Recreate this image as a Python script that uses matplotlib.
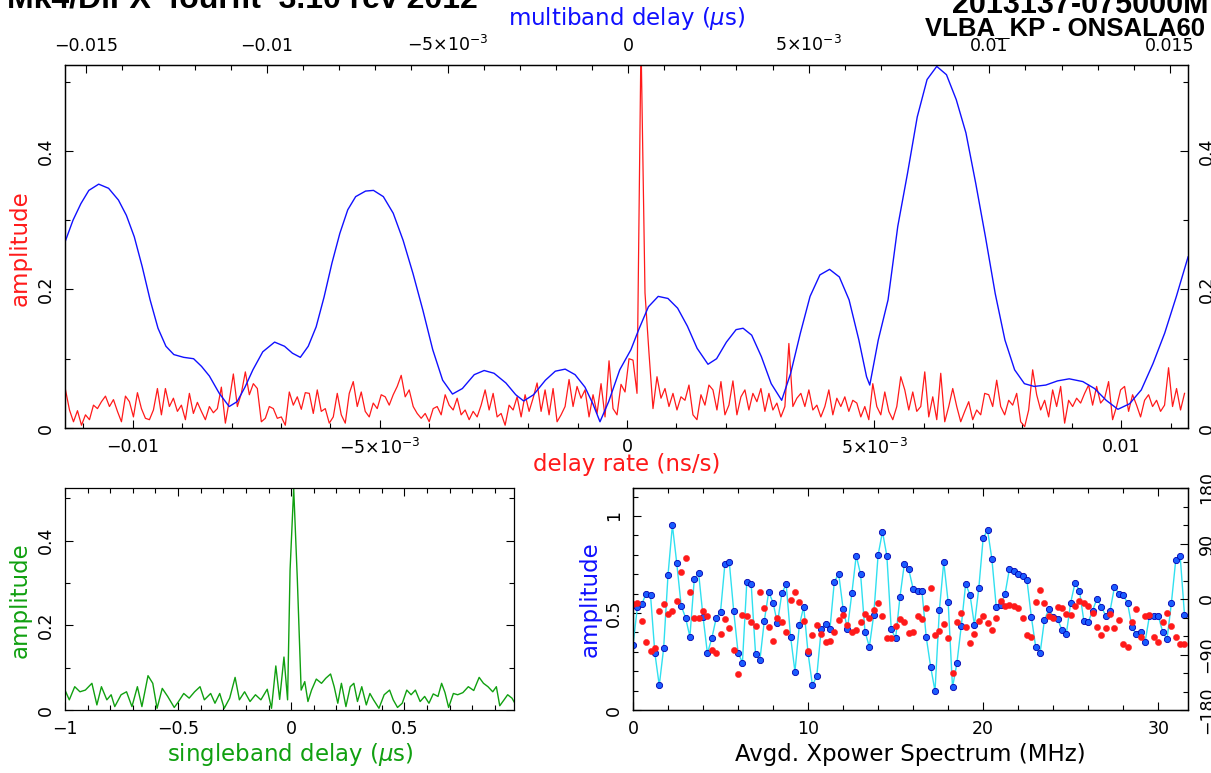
import numpy as np
import matplotlib
matplotlib.use("Agg")
import matplotlib.pyplot as plt
from matplotlib.ticker import FixedLocator, FixedFormatter, MultipleLocator

# ---- delay-rate spectrum (red, bottom axis of top panel), evenly sampled ----
rate_first, rate_last = -0.01136, 0.01128   # ns/s, first and last sample
rate_amp = [
    0.055, 0.026, 0.009, 0.025, 0.004, 0.019, 0.012, 0.033, 0.028, 0.038,
    0.046, 0.031, 0.041, 0.024, 0.009, 0.046, 0.038, 0.016, 0.051, 0.028,
    0.014, 0.012, 0.026, 0.057, 0.019, 0.057, 0.031, 0.043, 0.024, 0.033,
    0.012, 0.050, 0.021, 0.037, 0.024, 0.012, 0.031, 0.022, 0.028, 0.059,
    0.007, 0.040, 0.078, 0.031, 0.050, 0.081, 0.048, 0.064, 0.057, 0.009,
    0.014, 0.031, 0.028, 0.014, 0.016, 0.004, 0.052, 0.033, 0.045, 0.027,
    0.051, 0.050, 0.021, 0.055, 0.024, 0.028, 0.007, 0.016, 0.050, 0.019,
    0.007, 0.050,
    0.067, 0.031, 0.052, 0.024, 0.016, 0.036, 0.028, 0.048, 0.045, 0.033,
    0.048, 0.060, 0.076, 0.045, 0.055, 0.031, 0.021, 0.014, 0.021, 0.009,
    0.028, 0.031, 0.019, 0.048, 0.033, 0.026, 0.043, 0.019, 0.026, 0.012,
    0.024, 0.016, 0.033, 0.055, 0.026, 0.050, 0.016, 0.021, 0.004, 0.033,
    0.026, 0.045, 0.016, 0.048, 0.024, 0.043, 0.065, 0.024, 0.055, 0.019,
    0.057, 0.009, 0.019, 0.031, 0.070, 0.031, 0.060, 0.043, 0.055, 0.016,
    0.048, 0.021, 0.064, 0.016, 0.097, 0.028, 0.019, 0.063, 0.052, 0.100,
    0.098, 0.050, 0.560, 0.195, 0.108, 0.028, 0.074, 0.043, 0.057, 0.031,
    0.050, 0.026, 0.045, 0.040, 0.062, 0.019, 0.012, 0.048, 0.033, 0.062,
    0.055, 0.026, 0.067, 0.019, 0.033, 0.068, 0.019, 0.045, 0.055, 0.026,
    0.050, 0.038, 0.057, 0.024, 0.050, 0.026, 0.036, 0.016, 0.031, 0.122,
    0.031, 0.043, 0.050, 0.031, 0.055, 0.026, 0.033, 0.016, 0.031, 0.055,
    0.019, 0.043, 0.031, 0.045, 0.024, 0.040, 0.036, 0.016, 0.031, 0.012,
    0.064, 0.031, 0.019, 0.052, 0.024, 0.012, 0.031, 0.074, 0.055, 0.026,
    0.052, 0.024, 0.031, 0.081, 0.016, 0.045, 0.012, 0.079, 0.009, 0.031,
    0.057, 0.031, 0.009, 0.024, 0.038, 0.012, 0.026, 0.019, 0.050, 0.048,
    0.031, 0.069, 0.031, 0.019, 0.040, 0.033, 0.050, 0.009, 0.002, 0.026,
    0.084, 0.048, 0.026, 0.040, 0.016, 0.055, 0.031, 0.060, 0.007, 0.040,
    0.031, 0.043, 0.036, 0.050, 0.062, 0.033, 0.060, 0.036, 0.043, 0.067,
    0.012, 0.031, 0.055, 0.060, 0.024, 0.048, 0.033, 0.016, 0.040, 0.048,
    0.031, 0.040, 0.024, 0.033, 0.087, 0.031, 0.057, 0.026, 0.050,
]

# ---- multiband delay function (blue, top axis of top panel) ----
mbd_delay = [
    -0.015600, -0.015368, -0.015149, -0.014930, -0.014657, -0.014383, -0.014110,
    -0.013891, -0.013672, -0.013453, -0.013234, -0.013015, -0.012796, -0.012577,
    -0.012304, -0.012030, -0.011811, -0.011592, -0.011319, -0.011045, -0.010826,
    -0.010607, -0.010388, -0.010115, -0.009787, -0.009513, -0.009294, -0.009075,
    -0.008856, -0.008637, -0.008418, -0.008200, -0.007981, -0.007762, -0.007543,
    -0.007269, -0.007050, -0.006777, -0.006503, -0.006230, -0.005956, -0.005682,
    -0.005409, -0.005135, -0.004862, -0.004588, -0.004260, -0.003986, -0.003712,
    -0.003384, -0.003111, -0.002892, -0.002618, -0.002290, -0.002016, -0.001743,
    -0.001469, -0.001195, -0.000976, -0.000779, -0.000539, -0.000232,
    0.000077, 0.000293, 0.000562, 0.000833, 0.001102, 0.001370, 0.001641,
    0.001910, 0.002211, 0.002449, 0.002721, 0.002989, 0.003183, 0.003421,
    0.003689, 0.003961, 0.004251, 0.004500, 0.004769, 0.005037, 0.005309,
    0.005577, 0.005848, 0.006117, 0.006388, 0.006601, 0.006690, 0.006925,
    0.007196, 0.007465, 0.007736, 0.008004, 0.008276, 0.008544, 0.008813,
    0.009084, 0.009352, 0.009624, 0.009892, 0.010163, 0.010432, 0.010700,
    0.010971, 0.011240, 0.011564, 0.011888, 0.012211, 0.012588, 0.012912,
    0.013235, 0.013559, 0.013883, 0.014207, 0.014531, 0.014855, 0.015178,
    0.015502,
]
mbd_amp = [
    0.267, 0.300, 0.324, 0.343, 0.352, 0.346, 0.329,
    0.307, 0.276, 0.233, 0.185, 0.144, 0.118, 0.106,
    0.102, 0.100, 0.089, 0.075, 0.050, 0.031, 0.038,
    0.059, 0.084, 0.110, 0.124, 0.118, 0.108, 0.102,
    0.118, 0.146, 0.189, 0.238, 0.281, 0.315, 0.334,
    0.342, 0.343, 0.334, 0.310, 0.271, 0.223, 0.170,
    0.113, 0.069, 0.049, 0.057, 0.077, 0.083, 0.079,
    0.065, 0.048, 0.039, 0.048, 0.069, 0.082, 0.085,
    0.077, 0.059, 0.035, 0.009, 0.038, 0.084,
    0.113, 0.142, 0.175, 0.190, 0.187, 0.173, 0.147,
    0.115, 0.092, 0.100, 0.124, 0.142, 0.144, 0.134,
    0.103, 0.064, 0.040, 0.079, 0.137, 0.190, 0.221,
    0.229, 0.218, 0.185, 0.127, 0.074, 0.062, 0.127,
    0.185, 0.291, 0.368, 0.449, 0.503, 0.522, 0.510,
    0.474, 0.426, 0.353, 0.276, 0.194, 0.127, 0.084,
    0.064, 0.060, 0.062, 0.068, 0.071, 0.067, 0.057,
    0.040, 0.027, 0.035, 0.055, 0.093, 0.137, 0.190,
    0.247,
]

# ---- singleband delay function (green) ----
sbd_delay = [
    -1.000, -0.981, -0.957, -0.934, -0.910, -0.881, -0.859, -0.839, -0.815, -0.796,
    -0.780, -0.752, -0.728, -0.704, -0.680, -0.660, -0.633, -0.612, -0.593, -0.570,
    -0.546, -0.517, -0.498, -0.475, -0.451, -0.427, -0.403, -0.384, -0.356, -0.337,
    -0.316, -0.296, -0.272, -0.248, -0.229, -0.206, -0.182, -0.158, -0.134, -0.106,
    -0.087, -0.068, -0.051, -0.032, -0.016, -0.005, 0.011, 0.027, 0.044, 0.060,
    0.074, 0.090, 0.111, 0.134, 0.153, 0.174, 0.190, 0.206, 0.222, 0.242,
    0.261, 0.277, 0.293, 0.312, 0.332, 0.348, 0.364, 0.388, 0.411, 0.435,
    0.451, 0.470, 0.491, 0.511, 0.530, 0.549, 0.570, 0.590, 0.609, 0.628,
    0.649, 0.665, 0.680, 0.696, 0.717, 0.736, 0.759, 0.783, 0.807, 0.831,
    0.850, 0.870, 0.891, 0.907, 0.922, 0.941, 0.957, 0.976, 0.989,
]
sbd_amp = [
    0.047, 0.024, 0.055, 0.043, 0.047, 0.063, 0.012, 0.055, 0.024, 0.036,
    0.008, 0.036, 0.043, 0.008, 0.055, 0.008, 0.081, 0.063, 0.004, 0.051,
    0.032, 0.006, 0.020, 0.039, 0.028, 0.043, 0.055, 0.024, 0.039, 0.016,
    0.039, 0.004, 0.028, 0.077, 0.024, 0.043, 0.020, 0.036, 0.024, 0.049,
    0.004, 0.104, 0.025, 0.125, 0.024, 0.330, 0.523, 0.310, 0.047, 0.067,
    0.020, 0.047, 0.073, 0.063, 0.075, 0.085, 0.055, 0.016, 0.063, 0.008,
    0.055, 0.063, 0.020, 0.055, 0.012, 0.039, 0.024, 0.004, 0.036, 0.047,
    0.024, 0.006, 0.016, 0.047, 0.036, 0.047, 0.020, 0.032, 0.016, 0.038,
    0.032, 0.063, 0.041, 0.006, 0.039, 0.036, 0.041, 0.055, 0.046, 0.077,
    0.063, 0.055, 0.043, 0.055, 0.010, 0.024, 0.036, 0.028, 0.016,
]

# ---- averaged cross-power spectrum, 0.25 MHz channels ----
xp_chan_mhz = 0.25
xp_amp = [
    0.335, 0.529, 0.545, 0.600, 0.593, 0.292, 0.127, 0.318, 0.696, 0.952,
    0.756, 0.538, 0.476, 0.378, 0.674, 0.704, 0.481, 0.292, 0.369, 0.473,
    0.507, 0.753, 0.761, 0.512, 0.296, 0.244, 0.658, 0.649, 0.289, 0.258,
    0.460, 0.608, 0.553, 0.447, 0.601, 0.648, 0.378, 0.198, 0.436, 0.533,
    0.292, 0.127, 0.177, 0.416, 0.443, 0.419, 0.662, 0.701, 0.521, 0.419,
    0.601, 0.796, 0.699, 0.404, 0.326, 0.490, 0.799, 0.919, 0.794, 0.416,
    0.369, 0.584, 0.754, 0.725, 0.624, 0.615, 0.615, 0.375, 0.223, 0.098,
    0.515, 0.763, 0.557, 0.117, 0.241, 0.433, 0.649, 0.593, 0.438, 0.627,
    0.885, 0.928, 0.777, 0.529, 0.541, 0.598, 0.727, 0.718, 0.701, 0.691,
    0.670, 0.481, 0.326, 0.292, 0.464, 0.519, 0.481, 0.469, 0.412, 0.392,
    0.553, 0.656, 0.615, 0.460, 0.452, 0.512, 0.574, 0.533, 0.486, 0.512,
    0.634, 0.600, 0.593, 0.550, 0.426, 0.390, 0.404, 0.351, 0.486, 0.486,
    0.486, 0.404, 0.364, 0.550, 0.773, 0.796, 0.490,
]
xp_phase = [
    -8, -7, -35, -69, -85, -79, -19, -8, -24, -20,
    -4, 44, 66, 12, -30, -30, -20, -27, -83, -87,
    -56, -33, -47, -83, -122, -26, -27, -38, -44, 11,
    -15, -46, -68, -31, -38, -53, -2, 12, -5, -36,
    -84, -59, -42, -57, -69, -68, -54, -34, -26, -42,
    -53, -50, -38, -25, -30, -18, -7, -28, -63, -64,
    -43, -32, -37, -55, -54, -27, -32, -15, 18, -58,
    -52, -40, -63, -120, -38, -23, -45, -72, -57, -35,
    -27, -39, -50, -31, -4, -11, -9, -11, -14, -31,
    -59, -61, -5, 15, -7, -28, -31, -13, -15, -24,
    -26, -12, -4, -7, -11, -22, -46, -58, -47, -25,
    -47, -34, -73, -78, -38, -17, -61, -28, -26, -61,
    -69, -38, -23, -43, -61, -73, -73,
]

# ---- tick labels ----
MINUS = "\u2212"
rate_ticks = [-0.01, -0.005, 0.0, 0.005, 0.01]
rate_labels = [MINUS + "0.01", r"$-5{\times}10^{-3}$", "0", r"$5{\times}10^{-3}$", "0.01"]
mbd_ticks = [-0.015, -0.01, -0.005, 0.0, 0.005, 0.01, 0.015]
mbd_labels = [MINUS + "0.015", MINUS + "0.01", r"$-5{\times}10^{-3}$", "0",
              r"$5{\times}10^{-3}$", "0.01", "0.015"]
amp_ticks = [0, 0.2, 0.4]
amp_labels = ["0", "0.2", "0.4"]
sbd_ticks = [-1, -0.5, 0, 0.5]
sbd_labels = [MINUS + "1", MINUS + "0.5", "0", "0.5"]
xp_ticks = [0, 10, 20, 30]
xp_labels = ["0", "10", "20", "30"]
xp_amp_ticks = [0, 0.5, 1]
xp_amp_labels = ["0", "0.5", "1"]
phase_ticks = [-180, -90, 0, 90, 180]
phase_labels = [MINUS + "180", MINUS + "90", "0", "90", "180"]

RED = "#ff1a1a"
BLUE = "#1010ff"
GREEN = "#10a010"
CYAN = "#30e0f0"

plt.rcParams["font.family"] = ["DejaVu Sans"]
plt.rcParams["mathtext.fontset"] = "dejavusans"

W, H = 1211, 773
fig = plt.figure(figsize=(W / 100, H / 100), dpi=100)


def box(x0, y0, x1, y1):
    """axes rectangle from pixel corners (top-left origin)"""
    return [x0 / W, 1 - y1 / H, (x1 - x0) / W, (y1 - y0) / H]


def style_ticks(ax):
    ax.tick_params(which="both", direction="in", width=0.8, labelsize=12.5, pad=7)
    ax.tick_params(which="major", length=6)
    ax.tick_params(which="minor", length=3.5)
    for s in ax.spines.values():
        s.set_linewidth(0.9)


def set_fixed(axis, ticks, labels):
    axis.set_major_locator(FixedLocator(ticks))
    axis.set_major_formatter(FixedFormatter(labels))


def rotate_y_labels(ax):
    for tick in ax.yaxis.get_major_ticks():
        for lab in (tick.label1, tick.label2):
            lab.set_rotation(90)
            lab.set_va("center")


def px_text(x, y, s, **kw):
    fig.text(x / W, 1 - y / H, s, **kw)


# ================= top panel: delay rate + multiband delay =================
ax_rate = fig.add_axes(box(65, 65, 1188, 428))
ax_mbd = ax_rate.twiny()

rate_grid = np.linspace(rate_first, rate_last, len(rate_amp))
ax_rate.plot(rate_grid, rate_amp, color=RED, lw=0.9)
ax_mbd.plot(mbd_delay, mbd_amp, color=BLUE, lw=1.0)

ax_rate.set_xlim(-0.01137, 0.01135)
ax_mbd.set_xlim(-0.01559, 0.01550)
ax_rate.set_ylim(0, 0.524)

set_fixed(ax_rate.xaxis, rate_ticks, rate_labels)
ax_rate.xaxis.set_minor_locator(MultipleLocator(0.001))
set_fixed(ax_mbd.xaxis, mbd_ticks, mbd_labels)
ax_mbd.xaxis.set_minor_locator(MultipleLocator(0.001))
set_fixed(ax_rate.yaxis, amp_ticks, amp_labels)
ax_rate.yaxis.set_minor_locator(MultipleLocator(0.1))

style_ticks(ax_rate)
style_ticks(ax_mbd)
ax_rate.tick_params(which="both", top=False, labeltop=False, bottom=True,
                    left=True, right=True, labelleft=True, labelright=True)
ax_mbd.tick_params(which="both", top=True, labeltop=True, bottom=False, labelbottom=False)
rotate_y_labels(ax_rate)

px_text(627, 18, r"multiband delay ($\mu$s)", color=BLUE, fontsize=16.5, ha="center", va="center")
px_text(627, 465, "delay rate (ns/s)", color=RED, fontsize=16.5, ha="center", va="center")
px_text(20, 248, "amplitude", color=RED, fontsize=16.5, ha="center", va="center", rotation=90)

# ================= bottom left: singleband delay =================
ax_sbd = fig.add_axes(box(65, 488, 514, 710))
ax_sbd.plot(sbd_delay, sbd_amp, color=GREEN, lw=1.0)
ax_sbd.set_xlim(-1.0, 0.985)
ax_sbd.set_ylim(0, 0.524)
set_fixed(ax_sbd.xaxis, sbd_ticks, sbd_labels)
ax_sbd.xaxis.set_minor_locator(MultipleLocator(0.1))
set_fixed(ax_sbd.yaxis, amp_ticks, amp_labels)
ax_sbd.yaxis.set_minor_locator(MultipleLocator(0.1))
style_ticks(ax_sbd)
ax_sbd.tick_params(which="both", top=True, right=True)
rotate_y_labels(ax_sbd)

px_text(290, 755, r"singleband delay ($\mu$s)", color=GREEN, fontsize=16.5, ha="center", va="center")
px_text(20, 600, "amplitude", color=GREEN, fontsize=16.5, ha="center", va="center", rotation=90)

# ================= bottom right: cross-power spectrum =================
ax_xp = fig.add_axes(box(633, 488, 1188, 710))
ax_ph = ax_xp.twinx()

xp_freq = np.arange(len(xp_amp)) * xp_chan_mhz
ax_xp.plot(xp_freq, xp_amp, color=CYAN, lw=1.0, zorder=2)
ax_xp.plot(xp_freq, xp_amp, ls="none", marker="o", ms=4.5, mfc="#1a5cff",
           mec="#0000b0", mew=0.6, zorder=3)
ax_ph.plot(xp_freq, xp_phase, ls="none", marker="o", ms=4.5, mfc=RED, mec=RED, mew=0.3)

ax_xp.set_xlim(0, 31.7)
ax_xp.set_ylim(0, 1.144)
ax_ph.set_ylim(-180, 180)
set_fixed(ax_xp.xaxis, xp_ticks, xp_labels)
ax_xp.xaxis.set_minor_locator(MultipleLocator(2))
set_fixed(ax_xp.yaxis, xp_amp_ticks, xp_amp_labels)
ax_xp.yaxis.set_minor_locator(MultipleLocator(0.1))
set_fixed(ax_ph.yaxis, phase_ticks, phase_labels)
ax_ph.yaxis.set_minor_locator(MultipleLocator(30))
style_ticks(ax_xp)
style_ticks(ax_ph)
ax_xp.tick_params(which="both", top=True, right=False)
ax_ph.tick_params(which="both", left=False, right=True, labelright=True)
rotate_y_labels(ax_xp)
rotate_y_labels(ax_ph)

px_text(910, 755, "Avgd. Xpower Spectrum (MHz)", color="black", fontsize=16.5, ha="center", va="center")
px_text(590, 599, "amplitude", color=BLUE, fontsize=16.5, ha="center", va="center", rotation=90)

# ================= header text (cut off at the top edge) =================
hdr = dict(family=["Liberation Sans", "DejaVu Sans"], fontweight="bold", va="baseline")
px_text(478, 8, "Mk4/DiFX  fourfit  3.10 rev 2012", ha="right", fontsize=23, **hdr)
px_text(952, 13, "2013137-075000M  IF", ha="left", fontsize=22, **hdr)
px_text(1205, 35, "VLBA_KP - ONSALA60", ha="right", fontsize=18.5, **hdr)

fig.savefig("out.png", dpi=100)
